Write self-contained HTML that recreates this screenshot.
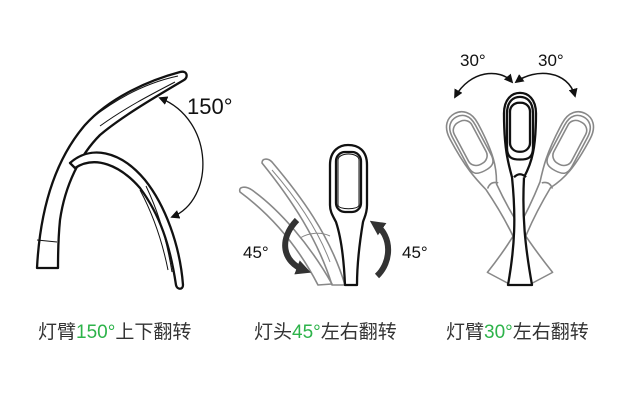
<!DOCTYPE html>
<html><head><meta charset="utf-8"><style>
body{margin:0;background:#fff;width:620px;height:410px;overflow:hidden;font-family:"Liberation Sans","Noto Sans CJK SC",sans-serif}
.lab{position:absolute;top:317px;font-size:19px;color:#333;white-space:nowrap}
.g{color:#2db34a}
</style></head><body>
<svg width="620" height="410" style="position:absolute;left:0;top:0" xmlns="http://www.w3.org/2000/svg">
<defs>
<marker id="ah" viewBox="0 0 10 10" refX="8" refY="5" markerUnits="userSpaceOnUse" markerWidth="9" markerHeight="9" orient="auto-start-reverse"><path d="M0,0 L10,5 L0,10 Z" fill="#111"/></marker>
<marker id="ah2" viewBox="0 0 10 10" refX="5" refY="5" markerUnits="userSpaceOnUse" markerWidth="15" markerHeight="15" orient="auto-start-reverse"><path d="M0,0 L10,5 L0,10 Z" fill="#333"/></marker>
<g id="lamp">
<path d="M-12,0 L12,0 C5,-40 2,-70 4,-110 C12,-125 16,-140 16,-175 C16,-190 8,-196 0,-196 C-8,-196 -16,-190 -16,-175 C-16,-140 -12,-125 -8,-110 C-4,-70 -5,-40 -12,0 Z"/>
<path d="M-13,-175 C-13,-188 -6,-192 0,-192 C6,-192 13,-188 13,-175 L13,-140 C13,-130 8,-128 0,-128 C-8,-128 -13,-130 -13,-140 Z"/>
<rect x="-10" y="-186" width="20" height="50" rx="9"/>
<path d="M-6,-110 C-2,-114 2,-114 6,-110"/>
</g>
</defs>
<g fill="none" stroke="#111" stroke-width="2.3" stroke-linejoin="round">
<!-- lamp 1 -->
<path d="M37,268 C40,210 55,160 85,125 C110,97 150,80 180,72 C188,70 188,78 184,80 C150,100 120,118 100,135 C80,155 65,185 60,220 C58,240 58,255 58,268 Z" fill="#fff"/>
<path d="M92,118 C120,96 150,82 178,76" stroke-width="1"/>
<path d="M100,126 C125,108 150,95 175,82" stroke-width="1"/>
<path d="M37,240 L57,242" stroke-width="1"/>
<path d="M70,163 C90,145 120,150 145,180 C165,205 180,245 183,285 C183,290 177,290 176,285 C170,245 160,215 140,188 C120,165 95,155 75,168 Z" fill="#fff"/>
<path d="M140,190 C148,205 160,230 168,270" stroke-width="1"/>
<path d="M146,186 C155,205 165,230 172,272" stroke-width="1"/>
<path d="M160,98 C215,120 215,200 172,217" stroke-width="1.3" marker-start="url(#ah)" marker-end="url(#ah)"/>
<!-- middle lamp gray side views -->
<g stroke="#888" stroke-width="1.6">
<path d="M240,192 C238,186 246,186 252,190 C280,210 310,245 332,284 L318,285 C300,250 275,218 240,192 Z"/>
<path d="M262,163 C262,158 268,158 272,162 C300,195 330,235 345,285 L332,285 C318,240 292,200 262,163 Z"/>
<path d="M272,170 C298,200 318,230 330,262" stroke-width="1"/>
<path d="M300,238 C310,232 322,232 330,236" stroke-width="1"/>
</g>
<path d="M330,165 C330,150 340,145 348,145 C358,145 367,150 367,165 L367,205 C367,214 364,218 363,222 C360,240 357,262 357,285 L345,285 C344,262 342,240 336,222 C333,216 330,212 330,205 Z" fill="#fff"/>
<rect x="336" y="152" width="25" height="60" rx="9"/>
<path d="M338,160 C338,152 359,152 359,160 L359,205 C359,210 338,210 338,205 Z" stroke-width="1"/>
<path d="M297,220 C278,240 283,262 304,270" stroke="#333" stroke-width="6" marker-end="url(#ah2)"/>
<path d="M377,276 C392,262 392,236 376,225" stroke="#333" stroke-width="6" marker-end="url(#ah2)"/>
<!-- right lamp -->
<g stroke="#888" stroke-width="1.6">
<use href="#lamp" transform="translate(542,278) rotate(-28) scale(1,0.95)"/>
<use href="#lamp" transform="translate(498,278) rotate(28) scale(1,0.95)"/>
</g>
<use href="#lamp" transform="translate(520,285) scale(1,0.98)" fill="#fff"/>
<path d="M455,97 C470,70 500,68 512,82" stroke-width="1.5" marker-start="url(#ah)" marker-end="url(#ah)"/>
<path d="M516,82 C535,68 568,70 575,96" stroke-width="1.5" marker-start="url(#ah)" marker-end="url(#ah)"/>
</g>
<g font-family="Liberation Sans,DejaVu Sans,sans-serif" fill="#111">
<text x="187" y="114" font-size="22">150°</text>
<text x="243" y="258" font-size="17">45°</text>
<text x="402" y="258" font-size="17">45°</text>
<text x="460" y="66" font-size="17">30°</text>
<text x="538" y="66" font-size="17">30°</text>
</g>
</svg>
<div class="lab" style="left:38px">灯臂<span class="g">150°</span>上下翻转</div>
<div class="lab" style="left:254px">灯头<span class="g">45°</span>左右翻转</div>
<div class="lab" style="left:446px">灯臂<span class="g">30°</span>左右翻转</div>
</body></html>
